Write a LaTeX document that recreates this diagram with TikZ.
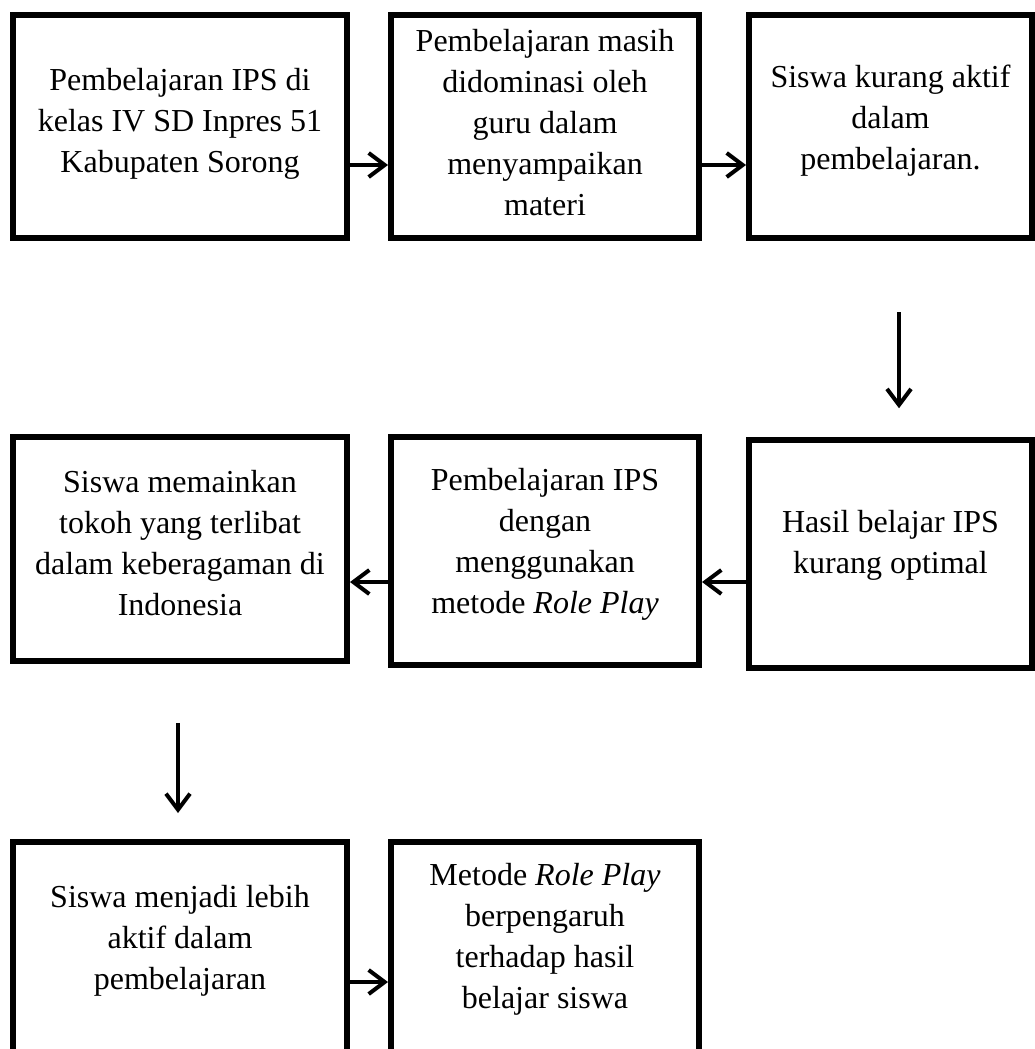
\documentclass[tikz,border=0pt]{standalone}
\usepackage{fontspec}
\setmainfont{Liberation Serif}
\usetikzlibrary{arrows.meta}
\tikzset{
  box/.style={draw, line width=6pt, inner sep=0pt, outer sep=0pt, rectangle},
  txt/.style={align=center, inner sep=0pt, anchor=base, font=\fontsize{32}{41}\selectfont},
  arr/.style={line width=4pt, -{Straight Barb[length=16pt,width=24pt,line width=4pt]}}
}
\begin{document}
\begin{tikzpicture}[x=1pt,y=-1pt]
\useasboundingbox (0,0) rectangle (1035,1049);
\clip (0,0) rectangle (1035,1049);
% row 1
\node[box, minimum width=334pt, minimum height=222pt] (b1) at (180,126.5) {};
\node[box, minimum width=308pt, minimum height=222pt] (b2) at (545,126.5) {};
\node[box, minimum width=283pt, minimum height=222pt] (b3) at (890.5,126.5) {};
% row 2
\node[box, minimum width=334pt, minimum height=223.5pt] (b4) at (180,549) {};
\node[box, minimum width=308pt, minimum height=227.5pt] (b5) at (545,551) {};
\node[box, minimum width=283pt, minimum height=227.5pt] (b6) at (890.5,554) {};
% row 3
\node[box, minimum width=334pt, minimum height=228pt] (b7) at (180,956) {};
\node[box, minimum width=308pt, minimum height=228pt] (b8) at (545,956) {};
% texts (placed by the baseline of their last line)
\node[txt] (t1) at (180,172) {Pembelajaran IPS di\\kelas IV SD Inpres 51\\Kabupaten Sorong};
\node[txt] (t2) at (545,215) {Pembelajaran masih\\didominasi oleh\\guru dalam\\menyampaikan\\materi};
\node[txt] (t3) at (890.5,169) {Siswa kurang aktif\\dalam\\pembelajaran.};
\node[txt] (t4) at (180,615) {Siswa memainkan\\tokoh yang terlibat\\dalam keberagaman di\\Indonesia};
\node[txt] (t5) at (545,613) {Pembelajaran IPS\\dengan\\menggunakan\\metode \textit{Role Play}};
\node[txt] (t6) at (890.5,573) {Hasil belajar IPS\\kurang optimal};
\node[txt] (t7) at (180,989) {Siswa menjadi lebih\\aktif dalam\\pembelajaran};
\node[txt] (t8) at (545,1008) {Metode \textit{Role Play}\\berpengaruh\\terhadap hasil\\belajar siswa};
% connector rows
\coordinate (r1) at (0,165);
\coordinate (r2) at (0,582);
\coordinate (r3) at (0,982);
\coordinate (d1) at (899,0);
\coordinate (d2) at (178,0);
\draw[arr, shorten >=3pt] (b1.east |- r1) -- (b2.west |- r1);
\draw[arr, shorten >=3pt] (b2.east |- r1) -- (b3.west |- r1);
\draw[arr, shorten <=74.5pt, shorten >=32pt] (b3.south -| d1) -- (b6.north -| d1);
\draw[arr, shorten >=3pt] (b6.west |- r2) -- (b5.east |- r2);
\draw[arr, shorten >=3pt] (b5.west |- r2) -- (b4.east |- r2);
\draw[arr, shorten <=62pt, shorten >=29pt] (b4.south -| d2) -- (b7.north -| d2);
\draw[arr, shorten >=3pt] (b7.east |- r3) -- (b8.west |- r3);
\end{tikzpicture}
\end{document}
